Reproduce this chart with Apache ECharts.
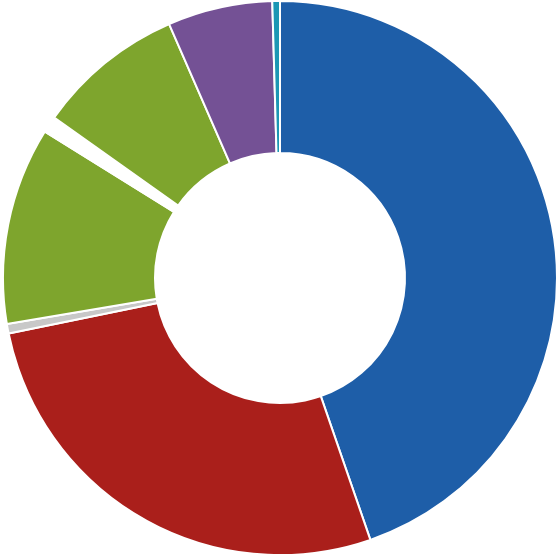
<!DOCTYPE html>
<html lang="en">
  <head>
    <meta charset="UTF-8" />
    <title>Donut</title>
    <script src="https://cdn.jsdelivr.net/npm/echarts@6/dist/echarts.min.js"></script>
    <style>
      html, body { margin: 0; padding: 0; background: #fff; }
      #main { width: 560px; height: 557px; }
    </style>
  </head>
  <body>
    <div id="main"></div>
    <script>
      // slice sizes (degrees of the ring)
      var names = ["A", "B", "C", "D", "gap", "E", "F", "G"];
      var values = [161, 97.5, 2, 41.5, 3.5, 31, 22, 1.6];
      var colors = ["#1e5ea8", "#aa1f1b", "#c8c8c8", "#7ea52d", "#ffffff", "#7ea52d", "#745195", "#1c97b4"];

      var myChart = echarts.init(document.getElementById("main"));
      var option = {
        animation: false,
        series: [
          {
            type: "pie",
            center: [280, 278],
            radius: [125, 277],
            startAngle: 90,
            clockwise: true,
            label: { show: false },
            labelLine: { show: false },
            itemStyle: { borderColor: "#fff", borderWidth: 2 },
            data: names.map(function (n, i) {
              return { name: n, value: values[i], itemStyle: { color: colors[i] } };
            }),
          },
        ],
      };
      myChart.setOption(option);
    </script>
  </body>
</html>
